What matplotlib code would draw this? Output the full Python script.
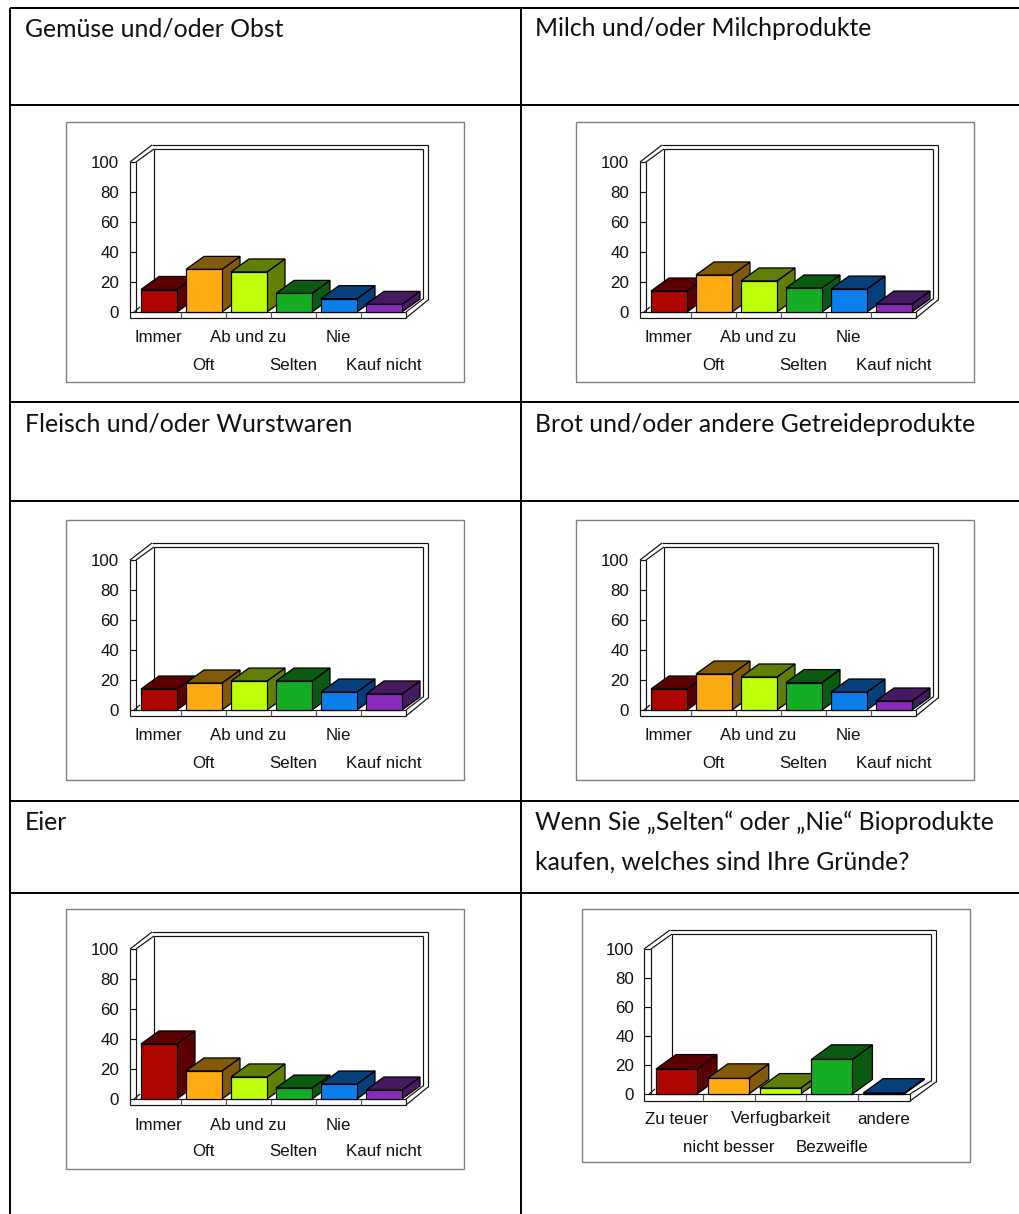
import matplotlib
matplotlib.use("Agg")
import matplotlib.pyplot as plt
from matplotlib.patches import Polygon, Rectangle

W, H = 1019, 1214
STD_LABELS = ["Immer", "Oft", "Ab und zu", "Selten", "Nie", "Kauf nicht"]
REASON_LABELS = ["Zu teuer", "nicht besser", "Verfugbarkeit", "Bezweifle", "andere"]
Y_TICKS = [0, 20, 40, 60, 80, 100]

gemuese = [15, 28.4, 26.7, 12.4, 8.9, 5.1]
milch = [14, 24.7, 20.7, 16, 15.3, 5.3]
fleisch = [14, 18, 19.3, 19.3, 12, 10.7]
brot = [14, 24, 22, 18.3, 12, 6]
eier = [36.7, 18.7, 14.7, 7.3, 10, 6]
gruende = [17.2, 10.8, 4.1, 23.9, 0.6]

FRONT = ["#AE0500", "#FFAB12", "#BFFF0A", "#15AD24", "#0C7FEF", "#8A2BBE"]
DARK = ["#5A0000", "#825A0A", "#608005", "#0B5A12", "#063F7A", "#451A60"]
FRONT6 = ["#AE0500", "#FFAB12", "#BFFF0A", "#15AD24", "#063F7A"]
DARK6 = ["#5A0000", "#825A0A", "#608005", "#0B5A12", "#063F7A"]

titles = [
    (25, 29, "Gemüse und/oder Obst"),
    (535, 29, "Milch und/oder Milchprodukte"),
    (25, 424, "Fleisch und/oder Wurstwaren"),
    (535, 424, "Brot und/oder andere Getreideprodukte"),
    (25, 822, "Eier"),
    (535, 822, "Wenn Sie „Selten“ oder „Nie“ Bioprodukte"),
    (535, 862, "kaufen, welches sind Ihre Gründe?"),
]

fig = plt.figure(figsize=(W / 100, H / 100), dpi=100, facecolor="white")
bg = fig.add_axes([0, 0, 1, 1])
bg.set_xlim(0, W)
bg.set_ylim(H, 0)
bg.axis("off")

# table grid
for y in [8, 104.5, 402, 501, 801, 892.5]:
    bg.plot([10, W], [y, y], color="black", lw=1.4, solid_capstyle="butt")
for x in [10.5, 521]:
    bg.plot([x, x], [8, H], color="black", lw=1.4, solid_capstyle="butt")
for x, y, t in titles:
    bg.text(x, y, t, fontsize=17.8, family="Lato", color="#111111", va="center", ha="left")


def chart(values, labels, front, dark, box, left, base, right_floor, slot, px_unit,
          bar_w, gap, ddx, ddy, top100, wall, back, outer, rows, tick_x):
    # chart frame
    bg.add_patch(Rectangle((box[0], box[1]), box[2] - box[0], box[3] - box[1], fc="white", ec="#808080", lw=1.0))
    ax0 = wall[0]
    lc = "#111111"
    lw = 0.85
    bot = base + wall[1]
    def ln(xs, ys, c=lc, w=lw):
        bg.plot(xs, ys, color=c, lw=w, solid_capstyle="butt")
    # left wall and back wall
    ln([ax0, ax0], [top100, bot])
    ln([left, left], [top100, base])
    ln([ax0, back[0] - 2], [top100, outer[1]])
    ln([left, back[0]], [top100, back[1]])
    ln([back[0] - 2, outer[0]], [outer[1], outer[1]])
    ln([back[0], back[2]], [back[1], back[1]])
    ln([back[0], back[0]], [back[1], base - 8])
    ln([back[2], back[2]], [back[1], base - 13])
    ln([outer[0], outer[0]], [outer[1], base - 12])
    # floor
    ln([ax0, right_floor], [bot, bot])
    ln([left - 2, right_floor], [base, base])
    ln([right_floor, right_floor], [base, bot])
    ln([right_floor, outer[0]], [bot, base - 12])
    ln([right_floor, back[2]], [base, base - 13])
    ln([left - 2, left + 4], [base, base - 5])
    for i in range(1, len(values)):
        xt = left + slot * i
        ln([xt, xt], [base, bot], "#555555")
    for v in Y_TICKS:
        yt = base - v * px_unit
        ln([ax0, left], [yt, yt])

    n = len(values)
    ax = fig.add_axes([left / W, 1 - base / H, slot * n / W, 100 * px_unit / H])
    ax.patch.set_alpha(0)
    ax.set_xlim(0, n)
    ax.set_ylim(0, 100)
    for s in ax.spines.values():
        s.set_visible(False)
    ax.set_xticks([])
    ax.set_yticks(Y_TICKS)
    ax.tick_params(axis="y", length=0, pad=(left - tick_x) * 0.72)
    for lab in ax.get_yticklabels():
        lab.set_family("Liberation Sans")
        lab.set_fontsize(12.2)
        lab.set_color("#111111")
    # bar geometry in data units
    w = bar_w / slot
    g = gap / slot
    dx = ddx / slot
    dy = ddy / px_unit
    for i, v in enumerate(values):
        x0 = i + g
        x1 = x0 + w
        z = 3 + i
        kw = dict(ec="black", lw=0.9, clip_on=False, zorder=z, joinstyle="miter")
        ax.add_patch(Polygon([(x1, 0), (x1 + dx, dy), (x1 + dx, v + dy), (x1, v)], fc=dark[i], **kw))
        ax.add_patch(Polygon([(x0, v), (x0 + dx, v + dy), (x1 + dx, v + dy), (x1, v)], fc=dark[i], **kw))
        ax.bar(x0, v, width=w, align="edge", color=front[i], edgecolor="black", linewidth=0.9, clip_on=False, zorder=z)
        ax.annotate(labels[i], xy=(i + 0.5, 0), xytext=(0, -rows[i % 2]), textcoords="offset pixels",
                    ha="center", va="center", family="Liberation Sans", fontsize=12.2,
                    color="#111111", annotation_clip=False)
    ax.set_xlim(0, n)
    ax.set_ylim(0, 100)


def std(values, ox, oy):
    chart(values, STD_LABELS, FRONT, DARK,
          box=(66 + ox, 122 + oy, 464 + ox, 382 + oy), left=136 + ox, base=312 + oy,
          right_floor=406 + ox, slot=45, px_unit=1.5, bar_w=36, gap=5, ddx=18, ddy=13,
          top100=162 + oy, wall=(130 + ox, 6), back=(154 + ox, 149 + oy, 423 + ox),
          outer=(428 + ox, 145 + oy), rows=(26, 53), tick_x=119 + ox)


std(gemuese, 0, 0)
std(milch, 510, 0)
std(fleisch, 0, 398)
std(brot, 510, 398)
std(eier, 0, 787)
chart(gruende, REASON_LABELS, FRONT6, DARK6,
      box=(582, 909, 970, 1162), left=651, base=1094, right_floor=910, slot=51.8,
      px_unit=1.45, bar_w=41, gap=5, ddx=20, ddy=14.5, top100=949, wall=(644, 7),
      back=(672, 934, 931), outer=(936, 930), rows=(25, 53), tick_x=634)

fig.savefig("out.png", dpi=100, facecolor="white")
